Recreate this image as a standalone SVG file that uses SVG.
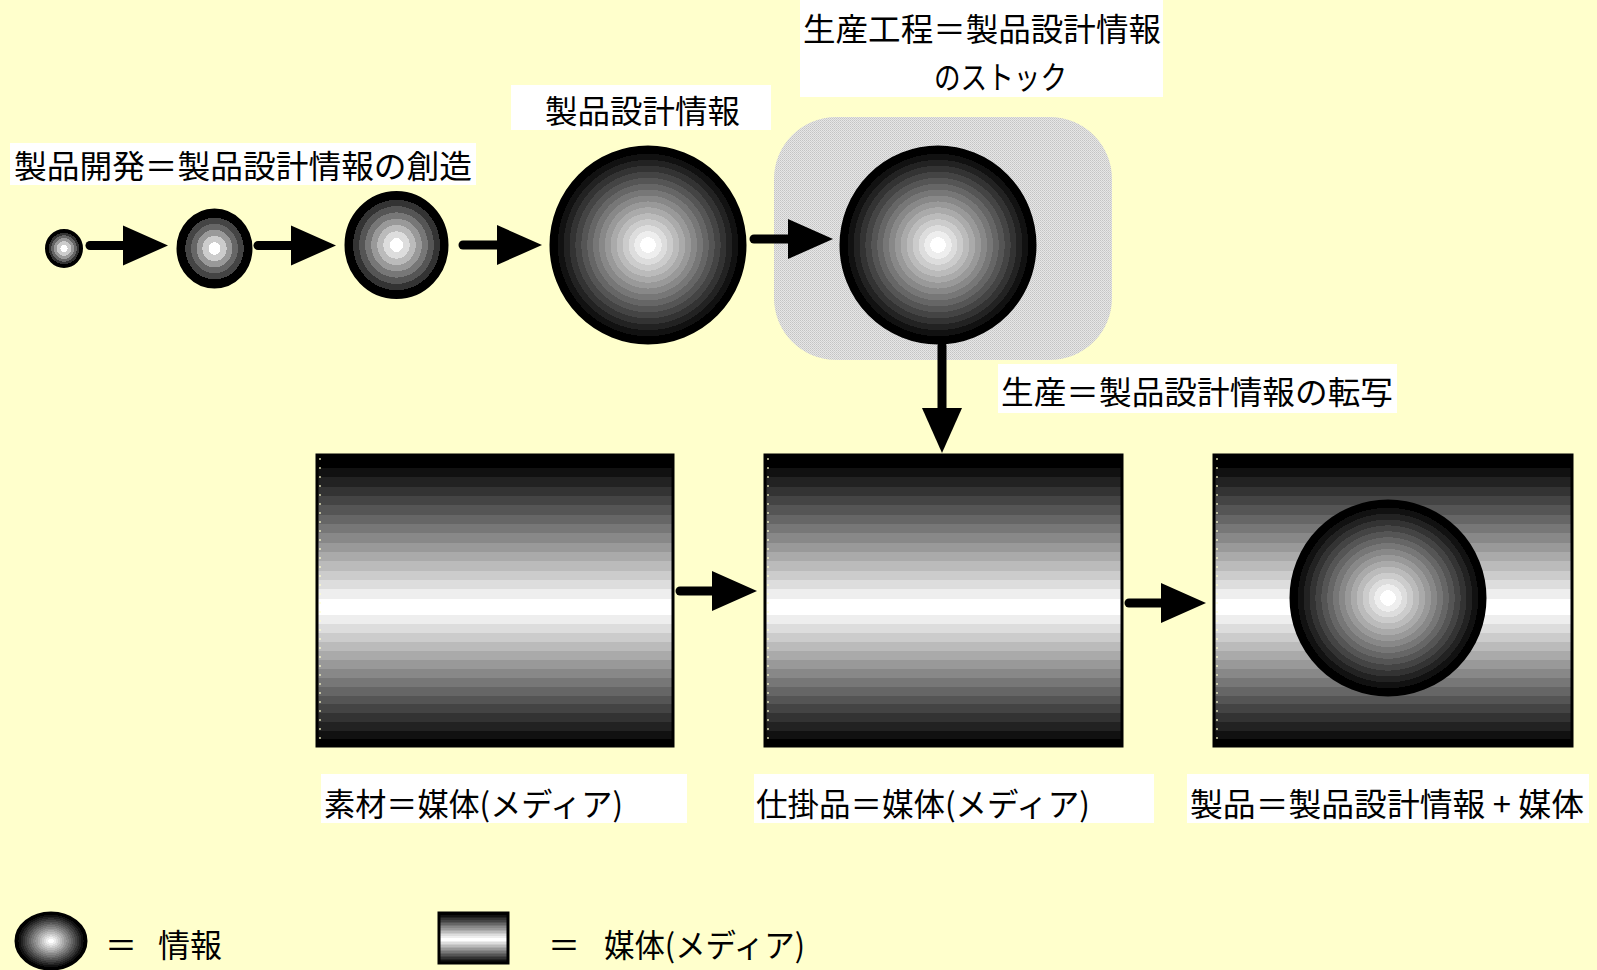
<svg xmlns="http://www.w3.org/2000/svg" width="1597" height="970" viewBox="0 0 1597 970">
<style>
.lbl{font-family:"Noto Sans CJK JP","Noto Sans CJK SC",sans-serif;font-size:32px;fill:#000}
.box{fill:#fff}
.info{fill:url(#gInfo);stroke:#000;stroke-width:3}
.media{fill:url(#gMedia);stroke:#000;stroke-width:3}
.edge{stroke:#ffffcc;stroke-width:1.2;stroke-dasharray:2 7}
.conn{stroke:#000;stroke-width:9;stroke-linecap:round;fill:none;marker-end:url(#head)}
</style>
<defs>
<marker id="head" markerUnits="userSpaceOnUse" markerWidth="48" markerHeight="42" refX="0" refY="20" orient="auto" overflow="visible">
<path d="M0,0 L45,20 L0,40 Z" fill="#000"/>
</marker>
<pattern id="dots" width="2" height="2" patternUnits="userSpaceOnUse">
<rect width="2" height="2" fill="#e6e6e6"/>
<rect width="1" height="1" fill="#c4c4c4"/>
<rect x="1" y="1" width="1" height="1" fill="#cfcfcf"/>
</pattern>
<radialGradient id="gInfoS" cx="0.5" cy="0.5" r="0.5">
<stop offset="0" stop-color="#fff"/><stop offset=".2" stop-color="#fff"/>
<stop offset=".2" stop-color="#ccc"/><stop offset=".4" stop-color="#ccc"/>
<stop offset=".4" stop-color="#999"/><stop offset=".56" stop-color="#999"/>
<stop offset=".56" stop-color="#666"/><stop offset=".71" stop-color="#666"/>
<stop offset=".71" stop-color="#333"/><stop offset=".84" stop-color="#333"/>
<stop offset=".84" stop-color="#000"/><stop offset="1" stop-color="#000"/>
</radialGradient>
<radialGradient id="gInfoM" cx="0.5" cy="0.5" r="0.5">
<stop offset="0" stop-color="#fff"/><stop offset=".16" stop-color="#fff"/>
<stop offset=".16" stop-color="#ccc"/><stop offset=".33" stop-color="#ccc"/>
<stop offset=".33" stop-color="#999"/><stop offset=".49" stop-color="#999"/>
<stop offset=".49" stop-color="#666"/><stop offset=".64" stop-color="#666"/>
<stop offset=".64" stop-color="#444"/><stop offset=".8" stop-color="#444"/>
<stop offset=".8" stop-color="#000"/><stop offset="1" stop-color="#000"/>
</radialGradient>
<radialGradient id="gInfoL" cx="0.5" cy="0.5" r="0.5">
<stop offset="0" stop-color="#fff"/><stop offset=".13" stop-color="#fff"/>
<stop offset=".13" stop-color="#ddd"/><stop offset=".26" stop-color="#ddd"/>
<stop offset=".26" stop-color="#bbb"/><stop offset=".38" stop-color="#bbb"/>
<stop offset=".38" stop-color="#999"/><stop offset=".5" stop-color="#999"/>
<stop offset=".5" stop-color="#777"/><stop offset=".62" stop-color="#777"/>
<stop offset=".62" stop-color="#555"/><stop offset=".74" stop-color="#555"/>
<stop offset=".74" stop-color="#333"/><stop offset=".86" stop-color="#333"/>
<stop offset=".86" stop-color="#000"/><stop offset="1" stop-color="#000"/>
</radialGradient>
<radialGradient id="gInfo" cx="0.5" cy="0.5" r="0.5">
<stop offset="0" stop-color="#fff"/><stop offset=".08" stop-color="#fff"/>
<stop offset=".08" stop-color="#eee"/><stop offset=".141" stop-color="#eee"/>
<stop offset=".141" stop-color="#ddd"/><stop offset=".201" stop-color="#ddd"/>
<stop offset=".201" stop-color="#ccc"/><stop offset=".262" stop-color="#ccc"/>
<stop offset=".262" stop-color="#bbb"/><stop offset=".323" stop-color="#bbb"/>
<stop offset=".323" stop-color="#aaa"/><stop offset=".384" stop-color="#aaa"/>
<stop offset=".384" stop-color="#999"/><stop offset=".444" stop-color="#999"/>
<stop offset=".444" stop-color="#888"/><stop offset=".505" stop-color="#888"/>
<stop offset=".505" stop-color="#777"/><stop offset=".566" stop-color="#777"/>
<stop offset=".566" stop-color="#666"/><stop offset=".626" stop-color="#666"/>
<stop offset=".626" stop-color="#555"/><stop offset=".687" stop-color="#555"/>
<stop offset=".687" stop-color="#444"/><stop offset=".748" stop-color="#444"/>
<stop offset=".748" stop-color="#333"/><stop offset=".809" stop-color="#333"/>
<stop offset=".809" stop-color="#222"/><stop offset=".869" stop-color="#222"/>
<stop offset=".869" stop-color="#111"/><stop offset=".93" stop-color="#111"/>
<stop offset=".93" stop-color="#000"/><stop offset="1" stop-color="#000"/>
</radialGradient>
<linearGradient id="gMedia" x1="0" y1="0" x2="0" y2="1">
<stop offset="0" stop-color="#000"/><stop offset=".045" stop-color="#000"/>
<stop offset=".045" stop-color="#111"/><stop offset=".077" stop-color="#111"/>
<stop offset=".077" stop-color="#222"/><stop offset=".109" stop-color="#222"/>
<stop offset=".109" stop-color="#333"/><stop offset=".141" stop-color="#333"/>
<stop offset=".141" stop-color="#444"/><stop offset=".173" stop-color="#444"/>
<stop offset=".173" stop-color="#555"/><stop offset=".205" stop-color="#555"/>
<stop offset=".205" stop-color="#666"/><stop offset=".237" stop-color="#666"/>
<stop offset=".237" stop-color="#777"/><stop offset=".269" stop-color="#777"/>
<stop offset=".269" stop-color="#888"/><stop offset=".301" stop-color="#888"/>
<stop offset=".301" stop-color="#999"/><stop offset=".333" stop-color="#999"/>
<stop offset=".333" stop-color="#aaa"/><stop offset=".365" stop-color="#aaa"/>
<stop offset=".365" stop-color="#bbb"/><stop offset=".397" stop-color="#bbb"/>
<stop offset=".397" stop-color="#ccc"/><stop offset=".429" stop-color="#ccc"/>
<stop offset=".429" stop-color="#ddd"/><stop offset=".461" stop-color="#ddd"/>
<stop offset=".461" stop-color="#eee"/><stop offset=".494" stop-color="#eee"/>
<stop offset=".494" stop-color="#fff"/><stop offset=".551" stop-color="#fff"/>
<stop offset=".551" stop-color="#eee"/><stop offset=".582" stop-color="#eee"/>
<stop offset=".582" stop-color="#ddd"/><stop offset=".613" stop-color="#ddd"/>
<stop offset=".613" stop-color="#ccc"/><stop offset=".643" stop-color="#ccc"/>
<stop offset=".643" stop-color="#bbb"/><stop offset=".674" stop-color="#bbb"/>
<stop offset=".674" stop-color="#aaa"/><stop offset=".704" stop-color="#aaa"/>
<stop offset=".704" stop-color="#999"/><stop offset=".735" stop-color="#999"/>
<stop offset=".735" stop-color="#888"/><stop offset=".766" stop-color="#888"/>
<stop offset=".766" stop-color="#777"/><stop offset=".796" stop-color="#777"/>
<stop offset=".796" stop-color="#666"/><stop offset=".827" stop-color="#666"/>
<stop offset=".827" stop-color="#555"/><stop offset=".857" stop-color="#555"/>
<stop offset=".857" stop-color="#444"/><stop offset=".888" stop-color="#444"/>
<stop offset=".888" stop-color="#333"/><stop offset=".918" stop-color="#333"/>
<stop offset=".918" stop-color="#222"/><stop offset=".949" stop-color="#222"/>
<stop offset=".949" stop-color="#111"/><stop offset=".975" stop-color="#111"/>
<stop offset=".975" stop-color="#000"/><stop offset="1" stop-color="#000"/>
</linearGradient>
</defs>
<rect width="1597" height="970" fill="#ffffcc"/>

<g id="stock-area">
<rect x="774" y="117" width="338" height="243" rx="62" fill="url(#dots)"/>
</g>

<g id="label-development">
<rect class="box" x="10" y="143" width="466" height="42"/>
<text class="lbl" x="14" y="178" textLength="458" lengthAdjust="spacingAndGlyphs">製品開発＝製品設計情報の創造</text>
</g>
<g id="label-design-info">
<rect class="box" x="511" y="85" width="260" height="45"/>
<text class="lbl" x="545" y="123" textLength="195" lengthAdjust="spacingAndGlyphs">製品設計情報</text>
</g>
<g id="label-process">
<rect class="box" x="800" y="0" width="363" height="97"/>
<text class="lbl" x="803" y="41" textLength="358" lengthAdjust="spacingAndGlyphs">生産工程＝製品設計情報</text>
<text class="lbl" x="934" y="89" textLength="133" lengthAdjust="spacingAndGlyphs">のストック</text>
</g>
<g id="label-production">
<rect class="box" x="998" y="364" width="399" height="49"/>
<text class="lbl" x="1001" y="404" textLength="392" lengthAdjust="spacingAndGlyphs">生産＝製品設計情報の転写</text>
</g>

<g id="info-1"><ellipse cx="64" cy="248.5" rx="18" ry="18.5" fill="url(#gInfoS)" stroke="#000" stroke-width="2"/></g>
<g id="info-2"><ellipse cx="214.5" cy="248.5" rx="36.5" ry="38.5" fill="url(#gInfoM)" stroke="#000" stroke-width="3"/></g>
<g id="info-3"><ellipse cx="396.5" cy="245" rx="50.5" ry="52.5" fill="url(#gInfoL)" stroke="#000" stroke-width="3"/></g>
<g id="info-4"><ellipse class="info" cx="648" cy="245" rx="97" ry="98"/></g>
<g id="info-5"><ellipse class="info" cx="938" cy="245" rx="97" ry="98"/></g>

<g id="media-material">
<rect class="media" x="317" y="455" width="356" height="291"/>
<line class="edge" x1="320" y1="458" x2="320" y2="743"/>
</g>
<g id="media-wip">
<rect class="media" x="765" y="455" width="357" height="291"/>
<line class="edge" x1="768" y1="458" x2="768" y2="743"/>
</g>
<g id="media-product">
<rect class="media" x="1214" y="455" width="358" height="291"/>
<line class="edge" x1="1217" y1="458" x2="1217" y2="743"/>
<ellipse class="info" cx="1388" cy="598" rx="97" ry="97"/>
</g>

<g id="label-material">
<rect class="box" x="321" y="774" width="366" height="49"/>
<text class="lbl" x="324" y="816" textLength="299" lengthAdjust="spacingAndGlyphs">素材＝媒体(メディア)</text>
</g>
<g id="label-wip">
<rect class="box" x="754" y="774" width="400" height="49"/>
<text class="lbl" x="756" y="816" textLength="334" lengthAdjust="spacingAndGlyphs">仕掛品＝媒体(メディア)</text>
</g>
<g id="label-product">
<rect class="box" x="1187" y="774" width="402" height="49"/>
<text class="lbl" x="1190" y="816" textLength="394" lengthAdjust="spacingAndGlyphs">製品＝製品設計情報 + 媒体</text>
</g>

<g id="legend-info">
<ellipse class="info" cx="51" cy="941" rx="35" ry="28"/>
<text class="lbl" x="105" y="957">＝</text>
<text class="lbl" x="158" y="957" textLength="64" lengthAdjust="spacingAndGlyphs">情報</text>
</g>
<g id="legend-media">
<rect class="media" x="439" y="913" width="69" height="50"/>
<text class="lbl" x="548" y="957">＝</text>
<text class="lbl" x="604" y="957" textLength="201" lengthAdjust="spacingAndGlyphs">媒体(メディア)</text>
</g>

<g id="connectors">
<line class="conn" x1="90" y1="245.5" x2="123" y2="245.5"/>
<line class="conn" x1="258" y1="245.5" x2="291" y2="245.5"/>
<line class="conn" x1="463" y1="245" x2="497" y2="245"/>
<line class="conn" x1="754" y1="239" x2="788" y2="239"/>
<line class="conn" x1="942" y1="346" x2="942" y2="408"/>
<line class="conn" x1="680" y1="591" x2="712" y2="591"/>
<line class="conn" x1="1129" y1="603" x2="1161" y2="603"/>
</g>
</svg>
